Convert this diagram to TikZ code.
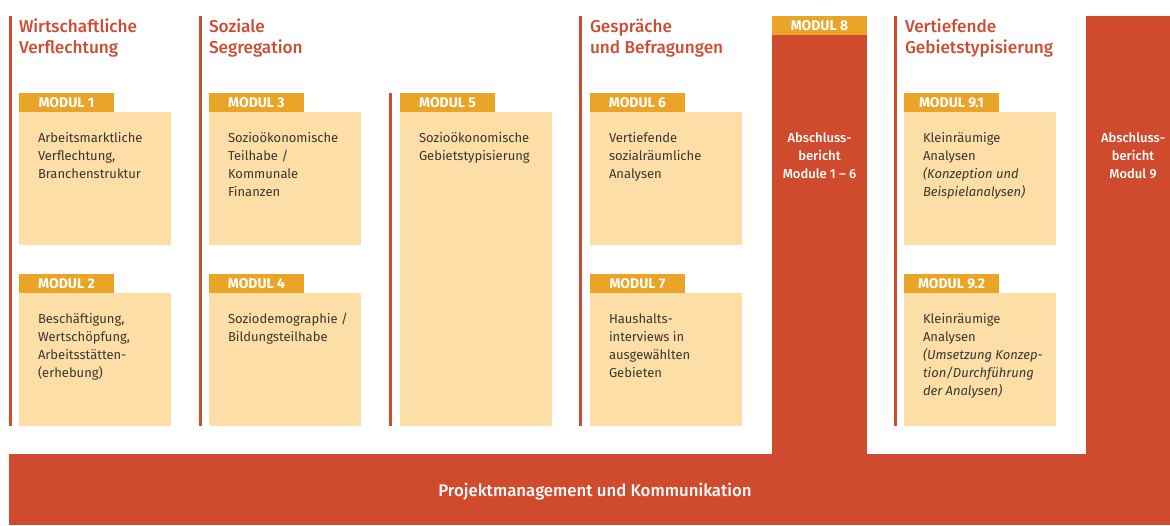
\documentclass[tikz,border=0pt]{standalone}
\usepackage{fontspec}
\setmainfont{Fira Sans}
\newfontfamily\firamed{Fira Sans Medium}
\usetikzlibrary{positioning}
\definecolor{bannerred}{RGB}{208,75,46}
\definecolor{headred}{RGB}{204,77,52}
\definecolor{modorange}{RGB}{234,164,40}
\definecolor{modlight}{RGB}{253,222,166}
\definecolor{bodygrey}{RGB}{58,54,50}
\begin{document}
\begin{tikzpicture}[x=0.5pt,y=-0.5pt,
  every node/.style={inner sep=0pt,outer sep=0pt},
  topic/.style={anchor=base west,align=left,text=headred,font=\firamed\fontsize{8.6}{10.5}\selectfont},
  modhead/.style={anchor=north west,fill=modorange,text=white,minimum width=47.5pt,minimum height=9.5pt,font=\bfseries\fontsize{7}{8}\selectfont},
  modbody/.style={anchor=north west,fill=modlight,minimum width=76pt},
  modtext/.style={anchor=base west,align=left,text=bodygrey,font=\fontsize{6.5}{9}\selectfont},
  redcol/.style={anchor=north west,fill=bannerred},
  redtext/.style={anchor=base,align=center,text=white,font=\firamed\fontsize{6.5}{9}\selectfont},
  sepline/.style={draw=bannerred,line width=1.5pt}]
  \fill[white] (0,0) rectangle (1170,525);
  \useasboundingbox (0,0) rectangle (1170,525);
  % Themenbereiche
  \draw[sepline] (10,16) -- (10,426); \draw[sepline] (200,16) -- (200,426);
  \draw[sepline] (390,93) -- (390,426); \draw[sepline] (580,16) -- (580,426);
  \draw[sepline] (895,16) -- (895,426);
  \node[topic] (wv) at (19,53) {Wirtschaftliche\\Verflechtung};
  \node[topic] (ss) at (209,53) {Soziale\\Segregation};
  \node[topic] (gb) at (590,53) {Gespräche\\und Befragungen};
  \node[topic] (vg) at (905,53) {Vertiefende\\Gebietstypisierung};
  % Module (base = letzte Zeile)
  \node[modbody,minimum height=66.5pt] (b1) at (19,112) {};
  \node[modhead] (h1) at (19,93) {MODUL 1};
  \node[modtext] (x1) at (38,178.5) {Arbeitsmarktliche\\Verflechtung,\\Branchenstruktur};
  \node[modbody,minimum height=66.5pt] (b2) at (19,293) {};
  \node[modhead] (h2) at (19,274) {MODUL 2};
  \node[modtext] (x2) at (38,377.5) {Beschäftigung,\\Wertschöpfung,\\Arbeitsstätten-\\(erhebung)};
  \node[modbody,minimum height=66.5pt] (b3) at (209,112) {};
  \node[modhead] (h3) at (209,93) {MODUL 3};
  \node[modtext] (x3) at (228,196.5) {Sozioökonomische\\Teilhabe /\\Kommunale\\Finanzen};
  \node[modbody,minimum height=66.5pt] (b4) at (209,293) {};
  \node[modhead] (h4) at (209,274) {MODUL 4};
  \node[modtext] (x4) at (228,341.5) {Soziodemographie /\\Bildungsteilhabe};
  \node[modbody,minimum height=157pt] (b5) at (400,112) {};
  \node[modhead] (h5) at (400,93) {MODUL 5};
  \node[modtext] (x5) at (419,160.5) {Sozioökonomische\\Gebietstypisierung};
  \node[modbody,minimum height=66.5pt] (b6) at (590,112) {};
  \node[modhead] (h6) at (590,93) {MODUL 6};
  \node[modtext] (x6) at (609,178.5) {Vertiefende\\sozialräumliche\\Analysen};
  \node[modbody,minimum height=66.5pt] (b7) at (590,293) {};
  \node[modhead] (h7) at (590,274) {MODUL 7};
  \node[modtext] (x7) at (609,377.5) {Haushalts-\\interviews in\\ausgewählten\\Gebieten};
  \node[modbody,minimum height=66.5pt] (b91) at (904,112) {};
  \node[modhead] (h91) at (904,93) {MODUL 9.1};
  \node[modtext] (x91) at (923,196.5) {Kleinräumige\\Analysen\\\textit{(Konzeption und}\\\textit{Beispielanalysen)}};
  \node[modbody,minimum height=66.5pt] (b92) at (904,293) {};
  \node[modhead] (h92) at (904,274) {MODUL 9.2};
  \node[modtext] (x92) at (923,395.5) {Kleinräumige\\Analysen\\\textit{(Umsetzung Konzep-}\\\textit{tion/Durchführung}\\\textit{der Analysen)}};
  % Abschlussberichte und Projektmanagement
  \node[redcol,minimum width=580.5pt,minimum height=35.5pt] (pm) at (9,454) {};
  \node[redcol,minimum width=47.5pt,minimum height=210pt] (r8) at (772,35) {};
  \node[modhead] (h8) at (772,16) {MODUL 8};
  \node[redtext] (x8) at (819.5,178.5) {Abschluss-\\bericht\\Module 1 – 6};
  \node[redcol,minimum width=42pt,minimum height=219.5pt] (r9) at (1086,16) {};
  \node[redtext] (x9) at (1133,178.5) {Abschluss-\\bericht\\Modul 9};
  \node[text=white,font=\firamed\fontsize{8.4}{10}\selectfont] (pmtext) at (595,492) {Projektmanagement und Kommunikation};
\end{tikzpicture}
\end{document}
